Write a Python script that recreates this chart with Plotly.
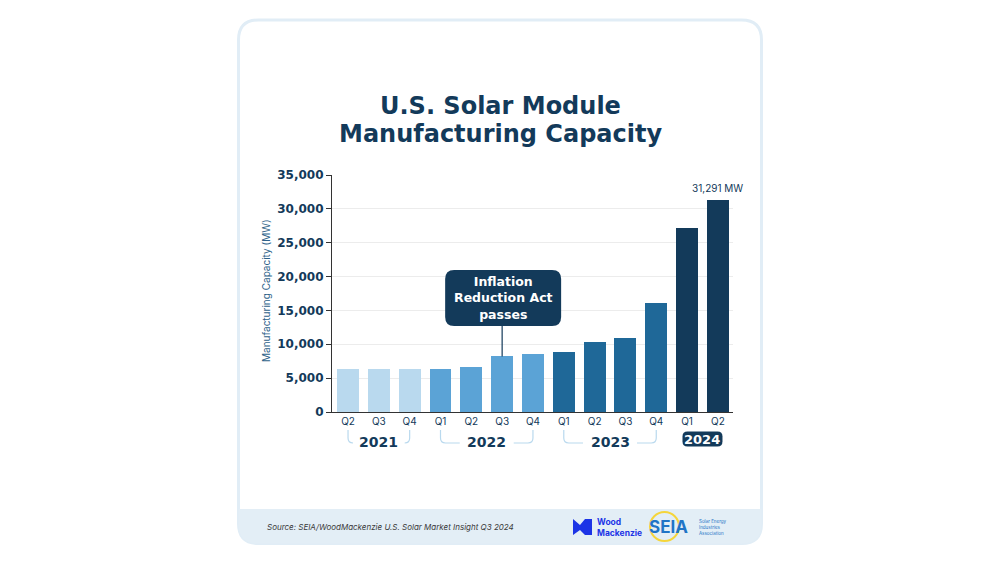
import plotly.graph_objects as go

quarters = ["Q2", "Q3", "Q4", "Q1", "Q2", "Q3", "Q4", "Q1", "Q2", "Q3", "Q4", "Q1", "Q2"]
years = ["2021", "2021", "2021", "2022", "2022", "2022", "2022",
         "2023", "2023", "2023", "2023", "2024", "2024"]
capacity = [6300, 6300, 6300, 6300, 6700, 8200, 8500, 8800, 10300, 11000, 16100, 27100, 31291]
year_labels = ["2021", "2022", "2023", "2024"]
y_ticks = [0, 5000, 10000, 15000, 20000, 25000, 30000, 35000]

year_colors = {"2021": "#b9d9ee", "2022": "#5ba3d6", "2023": "#1f6898", "2024": "#133a5a"}
navy = "#133a5a"

# plot area in screen pixels; the page body adds an 8px offset
OFF = 8
L, R, T, B = 332, 733, 175, 412
SW, SH = 1000, 563


def px(x):
    return (x - L) / (R - L)


def py(y):
    return (B - y) / (B - T)


def rrect(x0, y0, x1, y1, rx, ry):
    # rounded rect path, corners via quadratic curves
    return (f"M {x0+rx},{y0} L {x1-rx},{y0} Q {x1},{y0} {x1},{y0+ry} "
            f"L {x1},{y1-ry} Q {x1},{y1} {x1-rx},{y1} L {x0+rx},{y1} "
            f"Q {x0},{y1} {x0},{y1-ry} L {x0},{y0+ry} Q {x0},{y0} {x0+rx},{y0} Z")


xs = list(range(len(quarters)))
colors = [year_colors[y] for y in years]

fig = go.Figure()
fig.add_trace(go.Bar(x=xs, y=capacity, marker_color=colors, width=0.71,
                     marker_line_width=0, hoverinfo="y"))

shapes = []
annotations = []

# card outline (paper coords, y up)
cx0, cx1, cy0, cy1 = px(238.5), px(761.5), py(543.5), py(20)
rx_c, ry_c = 20 / (R - L), 20 / (B - T)
shapes.append(dict(type="path", xref="paper", yref="paper", layer="below",
                   path=rrect(cx0, cy0, cx1, cy1, rx_c, ry_c),
                   line=dict(color="#e1edf6", width=3), fillcolor="white"))
# footer band with rounded bottom corners
fy0, fy1 = py(543.5), py(509)
shapes.append(dict(type="path", xref="paper", yref="paper", layer="below",
                   path=(f"M {cx0},{fy1} L {cx1},{fy1} L {cx1},{fy0+ry_c} "
                         f"Q {cx1},{fy0} {cx1-rx_c},{fy0} L {cx0+rx_c},{fy0} "
                         f"Q {cx0},{fy0} {cx0},{fy0+ry_c} Z"),
                   line=dict(width=0), fillcolor="#e3eef6"))

# year brackets
unit = 30.83  # px per category
for yr in year_labels[:3]:
    idx = [i for i, y in enumerate(years) if y == yr]
    a, b = idx[0], idx[-1]
    mid = (a + b) / 2
    half = 27 / unit
    r_x, r_y = 5 / unit, 5 / (B - T)
    top, bot = py(430), py(443)
    shapes.append(dict(type="path", xref="x", yref="paper",
                       path=f"M {a},{top} L {a},{bot+r_y} Q {a},{bot} {a+r_x},{bot} L {mid-half},{bot}",
                       line=dict(color="#b9d9ee", width=1.2)))
    shapes.append(dict(type="path", xref="x", yref="paper",
                       path=f"M {mid+half},{bot} L {b-r_x},{bot} Q {b},{bot} {b},{bot+r_y} L {b},{top}",
                       line=dict(color="#b9d9ee", width=1.2)))
    annotations.append(dict(x=mid, y=py(442), xref="x", yref="paper", text=f"<b>{yr}</b>",
                            showarrow=False, yanchor="middle",
                            font=dict(size=14, color=navy, family="DejaVu Sans")))

# 2024 pill
idx = [i for i, y in enumerate(years) if y == "2024"]
mid = (idx[0] + idx[-1]) / 2
hw = 20 / unit
shapes.append(dict(type="path", xref="x", yref="paper",
                   path=rrect(mid - hw, py(446.5), mid + hw, py(431.5), 5 / unit, 5 / (B - T)),
                   line=dict(width=0), fillcolor=navy))
annotations.append(dict(x=mid, y=py(439.5), xref="x", yref="paper", text="<b>2024</b>",
                        showarrow=False, yanchor="middle",
                        font=dict(size=13, color="white", family="DejaVu Sans")))

# Inflation Reduction Act callout
ira = 5
to_y = lambda p: (B - p) / (B - T) * 35000
bx0, bx1 = ira - 57 / unit, ira + 59 / unit
by0, by1 = to_y(326), to_y(270)
shapes.append(dict(type="path", xref="x", yref="y",
                   path=rrect(bx0, by0, bx1, by1, 9 / unit, 9 / (B - T) * 35000),
                   line=dict(width=0), fillcolor=navy))
shapes.append(dict(type="line", xref="x", yref="y", x0=ira, x1=ira,
                   y0=capacity[ira], y1=by0, line=dict(color=navy, width=1.2)))
annotations.append(dict(x=ira + 0.03, y=(by0 + by1) / 2, xref="x", yref="y",
                        text="<b>Inflation<br>Reduction Act<br>passes</b>",
                        showarrow=False, yanchor="middle",
                        font=dict(size=12.5, color="white", family="DejaVu Sans")))

# last value label
annotations.append(dict(x=len(capacity) - 1, y=py(188), xref="x", yref="paper",
                        text=f"{capacity[-1]:,} MW", showarrow=False, yanchor="middle",
                        font=dict(size=10, color=navy, family="Inter")))

# title
annotations.append(dict(x=px(500), y=py(106), xref="paper", yref="paper",
                        text="<b>U.S. Solar Module</b>", showarrow=False, yanchor="middle",
                        font=dict(size=24, color=navy, family="DejaVu Sans")))
annotations.append(dict(x=px(500), y=py(134), xref="paper", yref="paper",
                        text="<b>Manufacturing Capacity</b>", showarrow=False, yanchor="middle",
                        font=dict(size=24, color=navy, family="DejaVu Sans")))

# y axis title
annotations.append(dict(x=px(266), y=py(291), xref="paper", yref="paper",
                        text="Manufacturing Capacity (MW)", textangle=-90, showarrow=False,
                        xanchor="center", yanchor="middle",
                        font=dict(size=10, color="#2e6289", family="Inter")))

# footer
annotations.append(dict(x=px(265), y=py(527), xref="paper", yref="paper",
                        text="<i>Source: SEIA/WoodMackenzie U.S. Solar Market Insight Q3 2024</i>",
                        showarrow=False, xanchor="left", yanchor="middle",
                        font=dict(size=8, color="#3a3a3a", family="Inter")))
# Wood Mackenzie mark
shapes.append(dict(type="path", xref="paper", yref="paper",
                   path=(f"M {px(573)},{py(519)} L {px(580)},{py(525)} L {px(585)},{py(519)} "
                         f"L {px(592)},{py(519)} L {px(592)},{py(535)} L {px(585)},{py(535)} "
                         f"L {px(580)},{py(530)} L {px(573)},{py(535)} Z"),
                   line=dict(width=0), fillcolor="#1c34e6"))
annotations.append(dict(x=px(595), y=py(527), xref="paper", yref="paper",
                        text="<b>Wood<br>Mackenzie</b>", showarrow=False, xanchor="left",
                        yanchor="middle", align="left",
                        font=dict(size=8.5, color="#1c34e6", family="Inter")))
# SEIA mark
shapes.append(dict(type="circle", xref="paper", yref="paper",
                   x0=px(650), x1=px(679), y0=py(541), y1=py(512),
                   line=dict(color="#f5d53a", width=2)))
annotations.append(dict(x=px(668), y=py(527), xref="paper", yref="paper",
                        text="<b>SEIA</b>", showarrow=False, xanchor="center", yanchor="middle",
                        font=dict(size=17, color="#1f74c6", family="Inter")))
annotations.append(dict(x=px(697), y=py(527), xref="paper", yref="paper",
                        text="Solar Energy<br>Industries<br>Association", showarrow=False,
                        xanchor="left", yanchor="middle", align="left",
                        font=dict(size=4.5, color="#1f74c6", family="Inter")))

fig.update_layout(
    width=SW - OFF, height=SH - OFF,
    margin=dict(l=L - OFF, r=SW - R, t=T - OFF, b=SH - B),
    paper_bgcolor="white", plot_bgcolor="rgba(0,0,0,0)",
    showlegend=False, bargap=0,
    font=dict(family="Inter", color=navy),
    shapes=shapes, annotations=annotations,
)
fig.update_xaxes(range=[-0.52, len(quarters) - 1 + 0.49], tickmode="array", tickvals=xs,
                 ticktext=quarters, showgrid=False, showline=True, linecolor="#333333",
                 linewidth=1.2, ticks="", tickfont=dict(size=10, color=navy), zeroline=False)
fig.update_yaxes(range=[0, 35000], tickvals=y_ticks, tickformat=",", showgrid=True,
                 gridcolor="#ececec", gridwidth=1, showline=True, linecolor="#333333",
                 linewidth=1.2, ticks="outside", ticklen=5, tickcolor="#333333",
                 tickfont=dict(size=12, color=navy, family="DejaVu Sans", weight="bold"),
                 zeroline=False)

fig.write_html("out.html")
